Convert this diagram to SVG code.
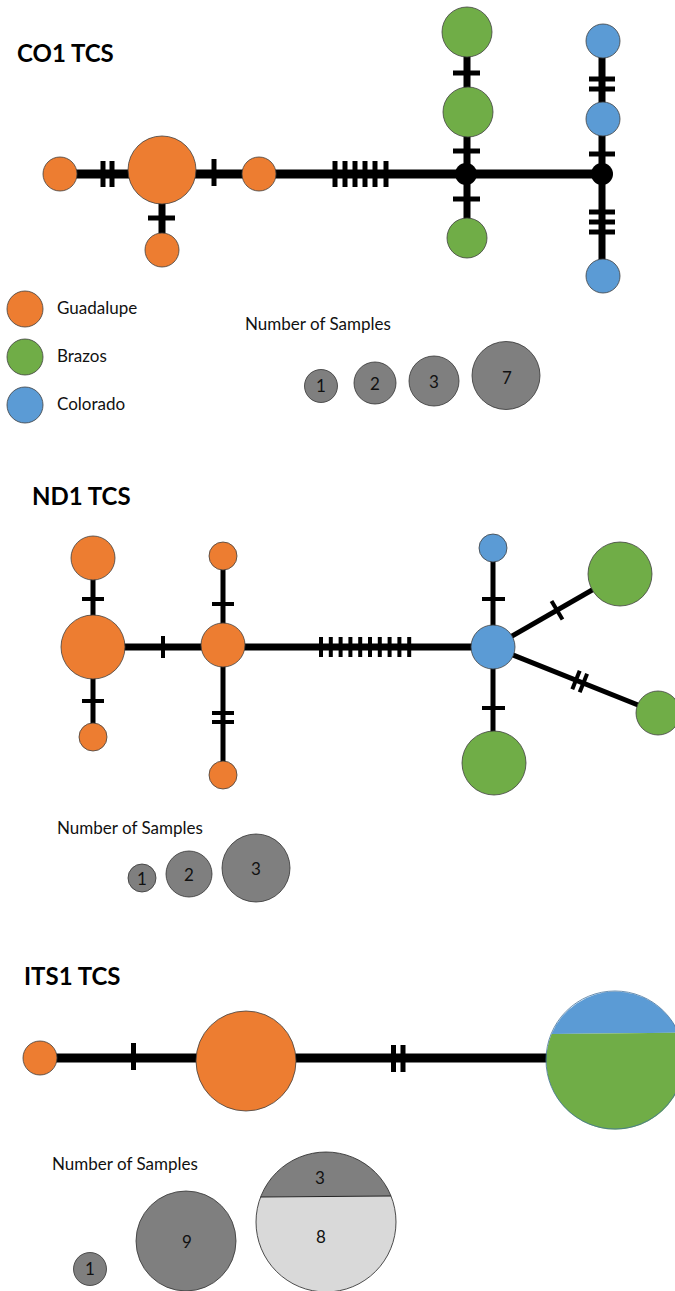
<svg xmlns="http://www.w3.org/2000/svg" width="675" height="1291" viewBox="0 0 675 1291">
  <style>
    .title { font-family: Lato, "Liberation Sans", sans-serif; font-weight: bold; font-size: 24px; fill: #000; }
    .label { font-family: Lato, "Liberation Sans", sans-serif; font-size: 17px; fill: #111; }
    .num { font-family: Lato, "Liberation Sans", sans-serif; font-size: 17px; fill: #111; text-anchor: middle; }
    .edge { stroke: #000; fill: none; }
    .tick { stroke: #000; stroke-width: 5; }
    .tick-thin { stroke: #000; stroke-width: 4; }
    .node { stroke: #404040; stroke-width: 0.8; }
    .guad { fill: #ED7D31; }
    .braz { fill: #70AD47; }
    .colo { fill: #5B9BD5; }
    .sample { fill: #7F7F7F; stroke: #333; stroke-width: 0.8; }
    .sample-light { fill: #D9D9D9; stroke: #333; stroke-width: 0.8; }
  </style>

  <!-- ===================== CO1 network ===================== -->
  <text class="title" x="17" y="62">CO1 TCS</text>

  <g id="co1-connectors">
    <line class="edge" x1="60" y1="174" x2="602" y2="174" stroke-width="9"/>
    <line class="edge" x1="162" y1="170" x2="162" y2="250" stroke-width="7"/>
    <line class="edge" x1="467" y1="32" x2="467" y2="238" stroke-width="7"/>
    <line class="edge" x1="602" y1="41" x2="602" y2="276" stroke-width="7"/>
    <!-- mutation ticks on the main line -->
    <line class="tick" x1="103" y1="161" x2="103" y2="187"/>
    <line class="tick" x1="112" y1="161" x2="112" y2="187"/>
    <line class="tick" x1="214" y1="159" x2="214" y2="186"/>
    <line class="tick" x1="335" y1="161" x2="335" y2="187"/>
    <line class="tick" x1="345" y1="161" x2="345" y2="187"/>
    <line class="tick" x1="355" y1="161" x2="355" y2="187"/>
    <line class="tick" x1="365" y1="161" x2="365" y2="187"/>
    <line class="tick" x1="375" y1="161" x2="375" y2="187"/>
    <line class="tick" x1="386" y1="161" x2="386" y2="187"/>
    <!-- ticks on vertical branches -->
    <line class="tick" x1="148" y1="218" x2="175" y2="218"/>
    <line class="tick" x1="453" y1="73" x2="480" y2="73"/>
    <line class="tick" x1="453" y1="151" x2="480" y2="151"/>
    <line class="tick" x1="453" y1="199" x2="480" y2="199"/>
    <line class="tick" x1="589" y1="79" x2="615" y2="79"/>
    <line class="tick" x1="589" y1="89" x2="615" y2="89"/>
    <line class="tick" x1="589" y1="154" x2="615" y2="154"/>
    <line class="tick" x1="589" y1="212" x2="615" y2="212"/>
    <line class="tick" x1="589" y1="222" x2="615" y2="222"/>
    <line class="tick" x1="589" y1="232" x2="615" y2="232"/>
  </g>

  <g id="co1-g1"><circle class="node guad" cx="60" cy="174" r="17"/></g>
  <g id="co1-g2"><circle class="node guad" cx="162" cy="170" r="34"/></g>
  <g id="co1-g3"><circle class="node guad" cx="259" cy="174" r="17"/></g>
  <g id="co1-g4"><circle class="node guad" cx="162" cy="250" r="17"/></g>
  <g id="co1-j1"><circle cx="466" cy="174" r="11" fill="#000"/></g>
  <g id="co1-j2"><circle cx="602" cy="174" r="11" fill="#000"/></g>
  <g id="co1-b1"><circle class="node braz" cx="467" cy="32" r="25"/></g>
  <g id="co1-b2"><circle class="node braz" cx="468" cy="112" r="25"/></g>
  <g id="co1-b3"><circle class="node braz" cx="467" cy="238" r="20"/></g>
  <g id="co1-c1"><circle class="node colo" cx="603" cy="41" r="17"/></g>
  <g id="co1-c2"><circle class="node colo" cx="603" cy="119" r="17"/></g>
  <g id="co1-c3"><circle class="node colo" cx="603" cy="276" r="17"/></g>

  <!-- river legend -->
  <g id="legend-rivers">
    <circle class="node guad" cx="25" cy="309" r="18"/>
    <text class="label" x="57" y="314">Guadalupe</text>
    <circle class="node braz" cx="25" cy="357" r="18"/>
    <text class="label" x="57" y="362">Brazos</text>
    <circle class="node colo" cx="25" cy="405" r="18"/>
    <text class="label" x="57" y="410">Colorado</text>
  </g>

  <!-- sample-size legend -->
  <g id="co1-samples">
    <text class="label" x="245" y="330">Number of Samples</text>
    <circle class="sample" cx="321" cy="386" r="16.5"/>
    <text class="num" x="321" y="392">1</text>
    <circle class="sample" cx="375" cy="383" r="21"/>
    <text class="num" x="375" y="390">2</text>
    <circle class="sample" cx="434" cy="381" r="25"/>
    <text class="num" x="434" y="388">3</text>
    <circle class="sample" cx="506" cy="375.5" r="34"/>
    <text class="num" x="507" y="384">7</text>
  </g>

  <!-- ===================== ND1 network ===================== -->
  <text class="title" x="32" y="505">ND1 TCS</text>

  <g id="nd1-connectors">
    <line class="edge" x1="93" y1="647" x2="493" y2="647" stroke-width="7"/>
    <line class="edge" x1="93" y1="558" x2="93" y2="737" stroke-width="5"/>
    <line class="edge" x1="223" y1="556" x2="223" y2="775" stroke-width="5"/>
    <line class="edge" x1="493" y1="548" x2="493" y2="763" stroke-width="5"/>
    <line class="edge" x1="493" y1="647" x2="620" y2="574" stroke-width="5"/>
    <line class="edge" x1="493" y1="647" x2="658" y2="713" stroke-width="5"/>
    <!-- ticks -->
    <line class="tick-thin" x1="82" y1="599" x2="104" y2="599"/>
    <line class="tick-thin" x1="82" y1="701" x2="104" y2="701"/>
    <line class="tick-thin" x1="163" y1="636" x2="163" y2="658"/>
    <line class="tick-thin" x1="212" y1="604" x2="234" y2="604"/>
    <line class="tick-thin" x1="212" y1="713" x2="234" y2="713"/>
    <line class="tick-thin" x1="212" y1="722" x2="234" y2="722"/>
    <line class="tick-thin" x1="321" y1="637" x2="321" y2="657"/>
    <line class="tick-thin" x1="330.8" y1="637" x2="330.8" y2="657"/>
    <line class="tick-thin" x1="340.6" y1="637" x2="340.6" y2="657"/>
    <line class="tick-thin" x1="350.4" y1="637" x2="350.4" y2="657"/>
    <line class="tick-thin" x1="360.2" y1="637" x2="360.2" y2="657"/>
    <line class="tick-thin" x1="370" y1="637" x2="370" y2="657"/>
    <line class="tick-thin" x1="379.8" y1="637" x2="379.8" y2="657"/>
    <line class="tick-thin" x1="389.6" y1="637" x2="389.6" y2="657"/>
    <line class="tick-thin" x1="399.4" y1="637" x2="399.4" y2="657"/>
    <line class="tick-thin" x1="409.2" y1="637" x2="409.2" y2="657"/>
    <line class="tick-thin" x1="482" y1="599" x2="505" y2="599"/>
    <line class="tick-thin" x1="482" y1="708" x2="505" y2="708"/>
    <line class="tick-thin" x1="551.5" y1="601" x2="562.5" y2="619.5"/>
    <line class="tick-thin" x1="572.3" y1="689.3" x2="579.7" y2="670.7"/>
    <line class="tick-thin" x1="579.7" y1="692.3" x2="587.1" y2="673.7"/>
  </g>

  <g id="nd1-g1"><circle class="node guad" cx="93" cy="558" r="22"/></g>
  <g id="nd1-g2"><circle class="node guad" cx="93" cy="647" r="32"/></g>
  <g id="nd1-g3"><circle class="node guad" cx="93" cy="737" r="14"/></g>
  <g id="nd1-g4"><circle class="node guad" cx="223" cy="645" r="22"/></g>
  <g id="nd1-g5"><circle class="node guad" cx="223" cy="556" r="14"/></g>
  <g id="nd1-g6"><circle class="node guad" cx="223" cy="775" r="14"/></g>
  <g id="nd1-c1"><circle class="node colo" cx="493" cy="548" r="14"/></g>
  <g id="nd1-c2"><circle class="node colo" cx="493" cy="647" r="22"/></g>
  <g id="nd1-b1"><circle class="node braz" cx="620" cy="574" r="32"/></g>
  <g id="nd1-b2"><circle class="node braz" cx="658" cy="713" r="22"/></g>
  <g id="nd1-b3"><circle class="node braz" cx="494" cy="763" r="32"/></g>

  <g id="nd1-samples">
    <text class="label" x="57" y="834">Number of Samples</text>
    <circle class="sample" cx="142" cy="878" r="14"/>
    <text class="num" x="142" y="885">1</text>
    <circle class="sample" cx="189" cy="874" r="23"/>
    <text class="num" x="189" y="881">2</text>
    <circle class="sample" cx="256" cy="868" r="34"/>
    <text class="num" x="256" y="875">3</text>
  </g>

  <!-- ===================== ITS1 network ===================== -->
  <text class="title" x="24" y="985">ITS1 TCS</text>

  <g id="its1-connectors">
    <line class="edge" x1="40" y1="1058" x2="615" y2="1058" stroke-width="9"/>
    <line class="tick" x1="133.5" y1="1043" x2="133.5" y2="1070"/>
    <line class="tick" x1="393.5" y1="1045" x2="393.5" y2="1072"/>
    <line class="tick" x1="403" y1="1045" x2="403" y2="1072"/>
  </g>

  <g id="its1-g1"><circle class="node guad" cx="40" cy="1058" r="17"/></g>
  <g id="its1-g2"><circle class="node guad" cx="246" cy="1061" r="50"/></g>
  <g id="its1-mix">
    <path d="M551.6,1034 A69,69 0 0 1 678.35,1032.66 Z" fill="#5B9BD5"/>
    <path d="M551.6,1034 A69,69 0 1 0 678.35,1032.66 Z" fill="#70AD47"/>
    <circle cx="615" cy="1060" r="69" fill="none" stroke="#41719C" stroke-width="0.8"/>
  </g>

  <g id="its1-samples">
    <text class="label" x="52" y="1170">Number of Samples</text>
    <circle class="sample" cx="90" cy="1269" r="16.5"/>
    <text class="num" x="90" y="1275">1</text>
    <circle class="sample" cx="186" cy="1241" r="50"/>
    <text class="num" x="187" y="1248">9</text>
    <path d="M260.6,1197 A70,70 0 0 1 391,1196 Z" fill="#7F7F7F"/>
    <path d="M260.6,1197 A70,70 0 1 0 391,1196 Z" fill="#D9D9D9"/>
    <line x1="260.6" y1="1197" x2="391" y2="1196" stroke="#222" stroke-width="1"/>
    <circle cx="326" cy="1222" r="70" fill="none" stroke="#222" stroke-width="0.8"/>
    <text class="num" x="320" y="1184">3</text>
    <text class="num" x="321" y="1243">8</text>
  </g>
</svg>
